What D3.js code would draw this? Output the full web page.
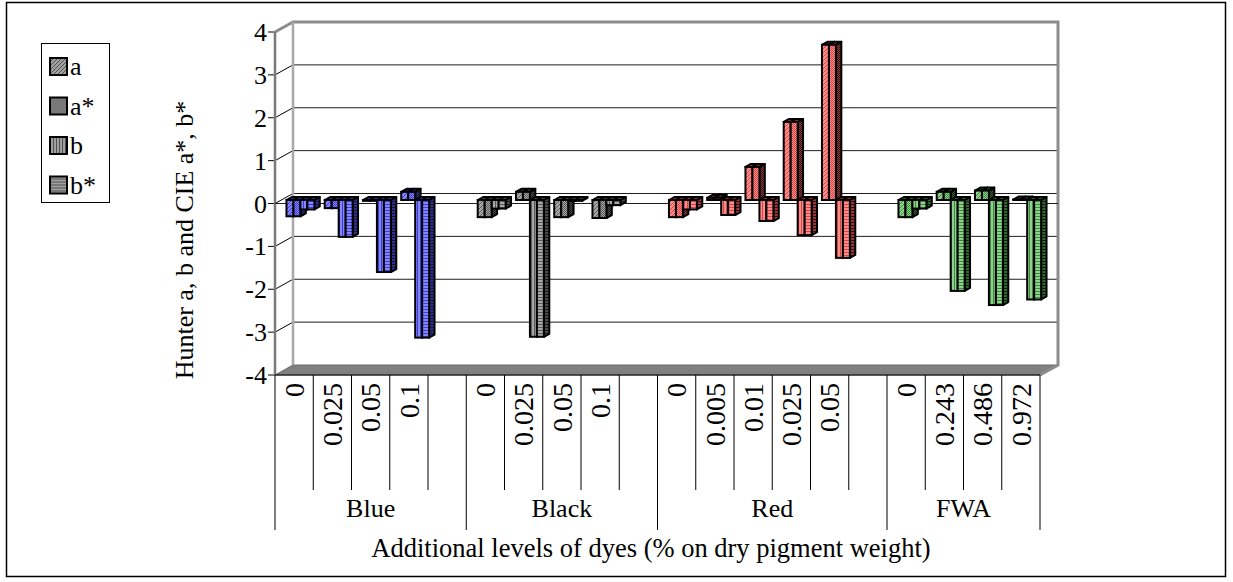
<!DOCTYPE html>
<html>
<head>
<meta charset="utf-8">
<script src="https://cdn.jsdelivr.net/npm/d3@7/dist/d3.min.js"></script>
<style>
  html, body { margin: 0; padding: 0; background: #fff; }
  svg { display: block; }
</style>
</head>
<body>
<svg id="chart" width="1233" height="582" font-family="'Liberation Serif', 'Times New Roman', Times, serif"></svg>
<script>
// ---- data ----
const groups = ["Blue", "Black", "Red", "FWA"];
const groupLevels = [
  ["0", "0.025", "0.05", "0.1"],
  ["0", "0.025", "0.05", "0.1"],
  ["0", "0.005", "0.01", "0.025", "0.05"],
  ["0", "0.243", "0.486", "0.972"]
];
const seriesNames = ["a", "a*", "b", "b*"];
// Hunter a / CIE a* and Hunter b / CIE b*, per group, per dye level
const hunterA = [[-0.38, -0.19, -0.02, 0.19], [-0.40, 0.19, -0.40, -0.42], [-0.40, 0.05, 0.77, 1.82, 3.62], [-0.40, 0.19, 0.22, 0.01]];
const cieA    = [[-0.38, -0.19, -0.02, 0.19], [-0.40, 0.19, -0.40, -0.42], [-0.40, 0.05, 0.77, 1.82, 3.62], [-0.40, 0.19, 0.22, 0.01]];
const hunterB = [[-0.22, -0.86, -1.68, -3.21], [-0.20, -3.19, -0.02, -0.12], [-0.22, -0.35, -0.49, -0.82, -1.35], [-0.20, -2.12, -2.45, -2.32]];
const cieB    = [[-0.22, -0.86, -1.68, -3.21], [-0.20, -3.19, -0.02, -0.12], [-0.22, -0.35, -0.49, -0.82, -1.35], [-0.20, -2.12, -2.45, -2.32]];
const yTicks = [4, 3, 2, 1, 0, -1, -2, -3, -4];
const seriesValues = [hunterA, cieA, hunterB, cieB];

// group colours: face, hatch, side
const groupColors = {
  Blue:  { face: "#8585ff", hatch: "#3c3cd0", side: "#2e2e9a" },
  Black: { face: "#a6a6a6", hatch: "#5a5a5a", side: "#4a4a4a" },
  Red:   { face: "#ff8a8a", hatch: "#d24848", side: "#a03434" },
  FWA:   { face: "#8fd08f", hatch: "#3c8c3c", side: "#2c6a2c" }
};

// ---- slots: one per dye level, plus a spacer after each group except the last ----
const slots = [];
groups.forEach((g, gi) => {
  groupLevels[gi].forEach((lv, li) => slots.push({ id: slots.length, group: g, gi, li, label: lv }));
  if (gi < groups.length - 1) slots.push({ id: slots.length, group: g, gi, li: -1, label: "" });
});

const svg = d3.select("#chart");
const defs = svg.append("defs");

// ---- 3D frame geometry ----
const frontLeft = 275, frontRight = 1040;
const depthX = 18, depthY = -10;
const y = d3.scaleLinear().domain([-4, 4]).range([375, 32]);
const xSlot = d3.scaleBand().domain(slots.map(s => s.id)).range([frontLeft, frontRight])
  .paddingInner(0.27).paddingOuter(0.135);
const xSeries = d3.scaleBand().domain(seriesNames).range([0, xSlot.bandwidth()]);
const slotStep = xSlot.step();

// bars sit between these depth fractions
const t1 = 0.35, t2 = 0.65;

const FS = 26;

// outer border
svg.append("rect").attr("x", 6.5).attr("y", 2.5).attr("width", 1219).attr("height", 574)
  .attr("fill", "#fff").attr("stroke", "#000").attr("stroke-width", 1.5);

// ---- patterns ----
function makePattern(id, base, line, kind) {
  const p = defs.append("pattern").attr("id", id).attr("patternUnits", "userSpaceOnUse");
  if (kind === "a") {
    p.attr("width", 4).attr("height", 4);
    p.append("rect").attr("width", 4).attr("height", 4).attr("fill", base);
    p.append("path").attr("d", "M-1,1 L1,-1 M0,4 L4,0 M3,5 L5,3").attr("stroke", line).attr("stroke-width", 1);
  } else if (kind === "a*") {
    p.attr("width", 2).attr("height", 2);
    p.append("rect").attr("width", 2).attr("height", 2).attr("fill", base);
    p.append("rect").attr("width", 1).attr("height", 1).attr("fill", line);
    p.append("rect").attr("x", 1).attr("y", 1).attr("width", 1).attr("height", 1).attr("fill", line);
  } else if (kind === "b") {
    p.attr("width", 3).attr("height", 3);
    p.append("rect").attr("width", 3).attr("height", 3).attr("fill", base);
    p.append("rect").attr("width", 1).attr("height", 3).attr("fill", line);
  } else {
    p.attr("width", 3).attr("height", 3);
    p.append("rect").attr("width", 3).attr("height", 3).attr("fill", base);
    p.append("rect").attr("width", 3).attr("height", 1).attr("fill", line);
  }
}
const patId = (g, si, part) => `p-${g}-${si}-${part}`;
groups.forEach(g => {
  const c = groupColors[g];
  seriesNames.forEach((s, si) => {
    makePattern(patId(g, si, "f"), c.face, c.hatch, s);
    makePattern(patId(g, si, "s"), c.side, "#1a1a1a", s);
  });
});
seriesNames.forEach((s, si) => makePattern(`leg-${si}`, "#a0a0a0", "#505050", s));

// ---- walls ----
const frame = svg.append("g");
const yb = v => y(v) + depthY;
// left side wall
frame.append("path")
  .attr("d", `M${frontLeft},${y(4)} L${frontLeft + depthX},${yb(4)} L${frontLeft + depthX},${yb(-4)} L${frontLeft},${y(-4)} Z`)
  .attr("fill", "#fff").attr("stroke", "none");
// back wall
frame.append("rect").attr("x", frontLeft + depthX).attr("y", yb(4))
  .attr("width", frontRight - frontLeft).attr("height", yb(-4) - yb(4)).attr("fill", "#fff");
// floor
frame.append("path")
  .attr("d", `M${frontLeft},${y(-4)} L${frontLeft + depthX},${yb(-4)} L${frontRight + depthX},${yb(-4)} L${frontRight},${y(-4)} Z`)
  .attr("fill", "#808080").attr("stroke", "#6a6a6a").attr("stroke-width", 1);

// gridlines: back wall and the diagonal continuation on the side wall
yTicks.filter(v => v > -4).forEach(v => {
  frame.append("line").attr("x1", frontLeft + depthX).attr("x2", frontRight + depthX)
    .attr("y1", yb(v)).attr("y2", yb(v)).attr("stroke", v === 4 ? "none" : "#1e1e1e").attr("stroke-width", 1);
  frame.append("line").attr("x1", frontLeft - 7).attr("x2", frontLeft).attr("y1", y(v)).attr("y2", y(v))
    .attr("stroke", "#000").attr("stroke-width", 1);
  frame.append("line").attr("x1", frontLeft).attr("x2", frontLeft + depthX).attr("y1", y(v)).attr("y2", yb(v))
    .attr("stroke", "#000").attr("stroke-width", 1);
});
frame.append("line").attr("x1", frontLeft - 7).attr("x2", frontLeft).attr("y1", y(-4)).attr("y2", y(-4))
  .attr("stroke", "#000").attr("stroke-width", 1);

// wall edges
const edge = "#8c8c8c";
frame.append("path")
  .attr("d", `M${frontLeft},${y(4)} L${frontLeft + depthX},${yb(4)} L${frontRight + depthX},${yb(4)} L${frontRight + depthX},${yb(-4)} L${frontRight},${y(-4)}`)
  .attr("fill", "none").attr("stroke", edge).attr("stroke-width", 3).attr("stroke-linejoin", "miter");
frame.append("line").attr("x1", frontLeft + depthX).attr("x2", frontLeft + depthX)
  .attr("y1", yb(4)).attr("y2", yb(-4)).attr("stroke", "#a8a8a8").attr("stroke-width", 2.5);
frame.append("line").attr("x1", frontLeft).attr("x2", frontLeft)
  .attr("y1", y(4)).attr("y2", y(-4)).attr("stroke", "#7a7a7a").attr("stroke-width", 2.5);

// horizontal axis line at zero
frame.append("line").attr("x1", frontLeft).attr("x2", frontRight + depthX)
  .attr("y1", y(0)).attr("y2", y(0)).attr("stroke", "#1e1e1e").attr("stroke-width", 1);

// y tick labels
svg.append("g").selectAll("text").data(yTicks).join("text")
  .attr("x", frontLeft - 8).attr("y", d => y(d)).attr("dy", "0.35em")
  .attr("text-anchor", "end").attr("font-size", FS).text(d => d);

// ---- bars ----
const bars = [];
slots.forEach(s => {
  if (s.li < 0) return;
  seriesNames.forEach((name, si) => {
    bars.push({ slot: s, si, name, value: seriesValues[si][s.gi][s.li] });
  });
});

const bx = d => xSlot(d.slot.id) + xSeries(d.name) + t1 * depthX;
const by = v => y(v) + t1 * depthY;
const bw = xSeries.bandwidth();
const ddx = (t2 - t1) * depthX, ddy = (t2 - t1) * depthY;
const barStroke = 2;

const barG = svg.append("g").selectAll("g").data(bars).join("g");
barG.each(function (d) {
  const g = d3.select(this);
  const xl = bx(d), xr = xl + bw;
  const top = by(Math.max(d.value, 0)), bot = by(Math.min(d.value, 0));
  const gname = d.slot.group;
  // side face
  g.append("path")
    .attr("d", `M${xr},${top} L${xr + ddx},${top + ddy} L${xr + ddx},${bot + ddy} L${xr},${bot} Z`)
    .attr("fill", `url(#${patId(gname, d.si, "s")})`).attr("stroke", "#000").attr("stroke-width", barStroke).attr("stroke-linejoin", "round");
  // top face
  g.append("path")
    .attr("d", `M${xl},${top} L${xl + ddx},${top + ddy} L${xr + ddx},${top + ddy} L${xr},${top} Z`)
    .attr("fill", groupColors[gname].side).attr("stroke", "#000").attr("stroke-width", barStroke).attr("stroke-linejoin", "round");
  // front face
  g.append("rect").attr("x", xl).attr("y", top).attr("width", bw).attr("height", Math.max(bot - top, 0.01))
    .attr("fill", `url(#${patId(gname, d.si, "f")})`).attr("stroke", "#000").attr("stroke-width", barStroke);
});

// ---- category axis (multi-level) ----
const axisG = svg.append("g");
const axisY = y(-4);
axisG.append("line").attr("x1", frontLeft).attr("x2", frontRight).attr("y1", axisY).attr("y2", axisY)
  .attr("stroke", "#000").attr("stroke-width", 1.2);
// separators between levels
slots.forEach(s => {
  const xr = frontLeft + (s.id + 1) * slotStep;
  const isGroupEnd = s.id === slots.length - 1 || slots[s.id + 1].gi !== s.gi;
  axisG.append("line").attr("x1", xr).attr("x2", xr).attr("y1", axisY).attr("y2", isGroupEnd ? 530 : 490)
    .attr("stroke", "#000").attr("stroke-width", 1);
});
axisG.append("line").attr("x1", frontLeft).attr("x2", frontLeft).attr("y1", axisY).attr("y2", 530)
  .attr("stroke", "#000").attr("stroke-width", 1);
// level labels (rotated)
axisG.selectAll("text.lv").data(slots.filter(s => s.li >= 0)).join("text").attr("class", "lv")
  .attr("transform", s => `translate(${frontLeft + (s.id + 0.5) * slotStep},${axisY + 8}) rotate(-90)`)
  .attr("text-anchor", "end").attr("dy", "0.35em").attr("font-size", 28).text(s => s.label);
// group labels
axisG.selectAll("text.grp").data(groups).join("text").attr("class", "grp")
  .attr("x", (g, gi) => {
    const ids = slots.filter(s => s.gi === gi).map(s => s.id);
    return frontLeft + (d3.min(ids) + d3.max(ids) + 1) / 2 * slotStep;
  })
  .attr("y", 517).attr("text-anchor", "middle").attr("font-size", FS).text(g => g);

// axis titles
svg.append("text").attr("x", 651).attr("y", 557).attr("text-anchor", "middle").attr("font-size", 26.5)
  .text("Additional levels of dyes (% on dry pigment weight)");
svg.append("text").attr("transform", "translate(193,240) rotate(-90)").attr("text-anchor", "middle")
  .attr("font-size", FS).text("Hunter a, b and CIE a*, b*");

// ---- legend ----
const leg = svg.append("g");
leg.append("rect").attr("x", 41.5).attr("y", 43.5).attr("width", 68).attr("height", 159)
  .attr("fill", "#fff").attr("stroke", "#000").attr("stroke-width", 1);
const legItems = leg.selectAll("g").data(seriesNames).join("g")
  .attr("transform", (d, i) => `translate(50,${66 + i * 39.5})`);
legItems.append("rect").attr("x", 0).attr("y", -8).attr("width", 17).attr("height", 17)
  .attr("fill", (d, i) => `url(#leg-${i})`).attr("stroke", "#000").attr("stroke-width", 2);
legItems.append("text").attr("x", 20).attr("y", 0).attr("dy", "0.35em").attr("font-size", FS).text(d => d);
</script>
</body>
</html>
